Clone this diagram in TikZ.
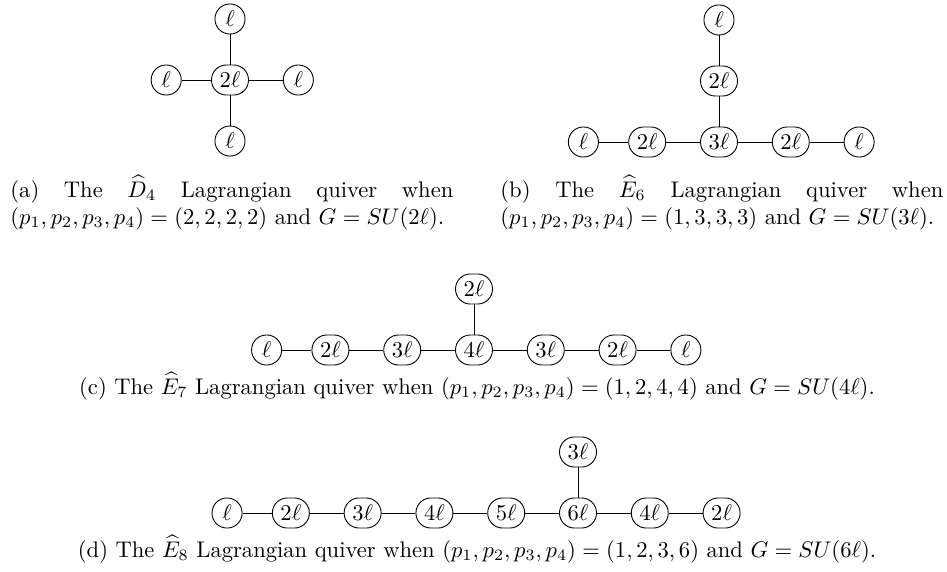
\documentclass[tikz,border=0pt]{standalone}
\usepackage{amsmath}
\usetikzlibrary{positioning}
\tikzstyle{gauge} = [rectangle, draw=black, rounded corners=6.6pt, minimum width=13.3pt, minimum height=13.3pt, inner xsep=3.6pt, inner ysep=0pt]
\tikzstyle{subcap} = [inner sep=0pt, text width=196pt, align=justify, anchor=base west]
\tikzstyle{maincap} = [inner sep=0pt, anchor=base]

\begin{document}
\begin{tikzpicture}[x=0.4425pt, y=-0.4425pt, node distance=13.3pt and 15pt]
\useasboundingbox (0,0) rectangle (947,571);
% (a) affine D4
\node[gauge] (a0) at (230,80) {$2\ell$};
\node[gauge, above=of a0] (a1) {$\ell$};
\node[gauge, left=13pt of a0] (a2) {$\ell$};
\node[gauge, right=of a0] (a3) {$\ell$};
\node[gauge, below=of a0] (a4) {$\ell$};
\draw (a0) -- (a1);
\draw (a0) -- (a2);
\draw (a0) -- (a3);
\draw (a0) -- (a4);
\node[subcap] (capa) at (10,197) {(a) The $\widehat{D}_4$ Lagrangian quiver when\linebreak $(p_1,p_2,p_3,p_4)=(2,2,2,2)$ and $G=SU(2\ell)$.};

% (b) affine E6
\node[gauge] (b0) at (719,142) {$3\ell$};
\node[gauge, above=of b0] (b1) {$2\ell$};
\node[gauge, above=of b1] (b2) {$\ell$};
\node[gauge, left=of b0] (b3) {$2\ell$};
\node[gauge, left=13pt of b3] (b4) {$\ell$};
\node[gauge, right=of b0] (b5) {$2\ell$};
\node[gauge, right=of b5] (b6) {$\ell$};
\draw (b0) -- (b1) -- (b2);
\draw (b0) -- (b3) -- (b4);
\draw (b0) -- (b5) -- (b6);
\node[subcap] (capb) at (500,197) {(b) The $\widehat{E}_6$ Lagrangian quiver when\linebreak $(p_1,p_2,p_3,p_4)=(1,3,3,3)$ and $G=SU(3\ell)$.};

% (c) affine E7
\node[gauge] (c0) at (474,350) {$4\ell$};
\node[gauge, above=of c0] (c1) {$2\ell$};
\node[gauge, left=of c0] (c2) {$3\ell$};
\node[gauge, left=of c2] (c3) {$2\ell$};
\node[gauge, left=13pt of c3] (c4) {$\ell$};
\node[gauge, right=of c0] (c5) {$3\ell$};
\node[gauge, right=of c5] (c6) {$2\ell$};
\node[gauge, right=of c6] (c7) {$\ell$};
\draw (c0) -- (c1);
\draw (c0) -- (c2) -- (c3) -- (c4);
\draw (c0) -- (c5) -- (c6) -- (c7);
\node[maincap] (capc) at (477,394) {(c) The $\widehat{E}_7$ Lagrangian quiver when $(p_1,p_2,p_3,p_4)=(1,2,4,4)$ and $G=SU(4\ell)$.};

% (d) affine E8
\node[gauge] (d0) at (578,513) {$6\ell$};
\node[gauge, above=of d0] (d1) {$3\ell$};
\node[gauge, left=of d0] (d2) {$5\ell$};
\node[gauge, left=of d2] (d3) {$4\ell$};
\node[gauge, left=of d3] (d4) {$3\ell$};
\node[gauge, left=of d4] (d5) {$2\ell$};
\node[gauge, left=13pt of d5] (d6) {$\ell$};
\node[gauge, right=of d0] (d7) {$4\ell$};
\node[gauge, right=of d7] (d8) {$2\ell$};
\draw (d0) -- (d1);
\draw (d0) -- (d2) -- (d3) -- (d4) -- (d5) -- (d6);
\draw (d0) -- (d7) -- (d8);
\node[maincap] (capd) at (477,557) {(d) The $\widehat{E}_8$ Lagrangian quiver when $(p_1,p_2,p_3,p_4)=(1,2,3,6)$ and $G=SU(6\ell)$.};
\end{tikzpicture}
\end{document}
